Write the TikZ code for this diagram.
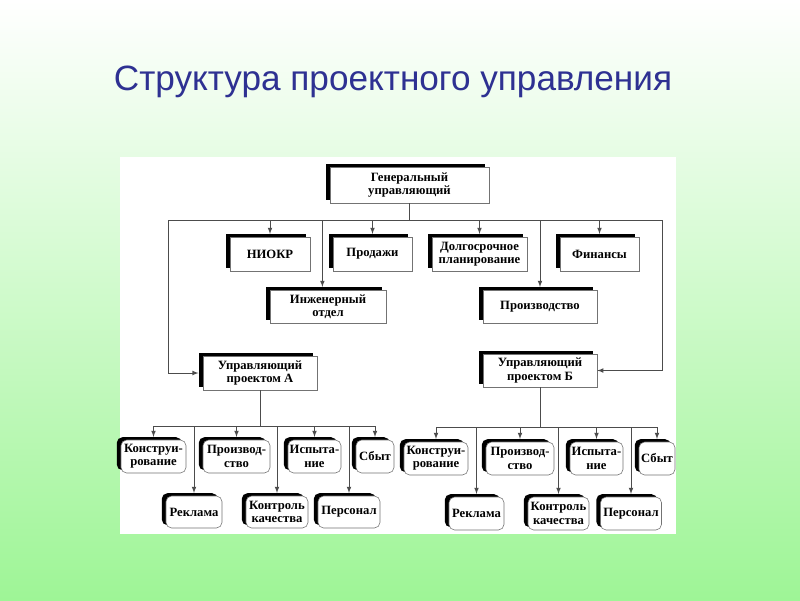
\documentclass[tikz,border=0pt]{standalone}
\usepackage{fontspec}
\setmainfont{Liberation Serif}
\newfontfamily\titlefont{Liberation Sans}
\usepackage{tikz}
\usetikzlibrary{arrows,shadows}
\definecolor{bggreen}{RGB}{158,245,150}
\definecolor{titleblue}{RGB}{46,49,146}

\begin{document}
\begin{tikzpicture}[x=0.025cm,y=-0.025cm,
	box/.style={draw=black!55,fill=white,align=center,inner sep=1pt,
		font=\fontsize{9}{9.5}\selectfont\bfseries,
		general shadow={fill=black,shadow xshift=-3pt,shadow yshift=2pt}},
	rbox/.style={box,rounded corners=4pt},
	boxsize/.style 2 args={minimum width=#1*0.025cm,minimum height=#2*0.025cm},
	line/.style={draw=black!70,line width=0.5pt},
	arr/.style={line,-latex}]
	% slide
	\shade[top color=white,bottom color=bggreen] (0,0) rectangle (800,600);
	\fill[white] (120,157) rectangle (676,534);
	\node[font=\titlefont\fontsize{25}{30}\selectfont,text=titleblue] (title) at (393,82) {Структура проектного управления};
	% top level
	\node[box,boxsize={159}{36}] (gen) at (409.5,185) {Генеральный\\управляющий};
	\node[box,boxsize={80}{34}] (niokr) at (270,254) {НИОКР};
	\node[box,boxsize={79}{34}] (sales) at (372.5,254) {Продажи};
	\node[box,boxsize={95}{34}] (plan) at (479.5,254) {Долгосрочное\\планирование};
	\node[box,boxsize={79}{34}] (fin) at (599.5,254) {Финансы};
	\node[box,boxsize={116}{33}] (eng) at (328,306.5) {Инженерный\\отдел};
	\node[box,boxsize={114}{33}] (prod) at (540,306.5) {Производство};
	\node[box,boxsize={114}{34}] (projA) at (260,373) {Управляющий\\проектом А};
	\node[box,boxsize={114}{33}] (projB) at (540,370.5) {Управляющий\\проектом Б};
	% project A
	\node[rbox,boxsize={65}{33}] (konA) at (153.5,456.5) {Конструи-\\рование};
	\node[rbox,boxsize={67}{33}] (proA) at (236.5,456.5) {Производ-\\ство};
	\node[rbox,boxsize={53}{33}] (ispA) at (314.5,456.5) {Испыта-\\ние};
	\node[rbox,boxsize={38}{33}] (sbA) at (375,456.5) {Сбыт};
	\node[rbox,boxsize={56}{32}] (rekA) at (194,512) {Реклама};
	\node[rbox,boxsize={62}{32}] (kkA) at (277,512) {Контроль\\качества};
	\node[rbox,boxsize={62}{32}] (perA) at (349,512) {Персонал};
	% project B
	\node[rbox,boxsize={64}{33}] (konB) at (436,458.5) {Конструи-\\рование};
	\node[rbox,boxsize={68}{33}] (proB) at (520,458.5) {Производ-\\ство};
	\node[rbox,boxsize={53}{33}] (ispB) at (596.5,458.5) {Испыта-\\ние};
	\node[rbox,boxsize={36}{33}] (sbB) at (657,458.5) {Сбыт};
	\node[rbox,boxsize={55}{33}] (rekB) at (476.5,513.5) {Реклама};
	\node[rbox,boxsize={61}{33}] (kkB) at (558.5,513.5) {Контроль\\качества};
	\node[rbox,boxsize={61}{33}] (perB) at (631,513.5) {Персонал};
	% connectors
	\coordinate (busL) at (168,220);
	\coordinate (busR) at (662,220);
	\coordinate (busA) at (0,426);
	\coordinate (busB) at (0,427);
	\draw[line] (gen.south) -- (gen.south |- busL);
	\draw[line] (busL) -- (busR);
	\foreach \n in {niokr,sales,plan,fin,prod}
		\draw[arr] (\n.north |- busL) -- ([yshift=2pt]\n.north);
	\draw[arr] ([xshift=-4pt]eng.north |- busL) -- ([xshift=-4pt,yshift=2pt]eng.north);
	\draw[arr] (busL) |- ([xshift=-3pt]projA.west);
	\draw[arr] (busR) |- (projB.east);
	\draw[line] (projA.south) -- (projA.south |- busA);
	\draw[line] (konA.north |- busA) -- (sbA.north |- busA);
	\foreach \n in {konA,proA,ispA,sbA,rekA,kkA,perA}
		\draw[arr] (\n.north |- busA) -- ([yshift=2pt]\n.north);
	\draw[line] (projB.south) -- (projB.south |- busB);
	\draw[line] (konB.north |- busB) -- (sbB.north |- busB);
	\foreach \n in {konB,proB,ispB,sbB,rekB,kkB,perB}
		\draw[arr] (\n.north |- busB) -- ([yshift=2pt]\n.north);
\end{tikzpicture}
\end{document}
